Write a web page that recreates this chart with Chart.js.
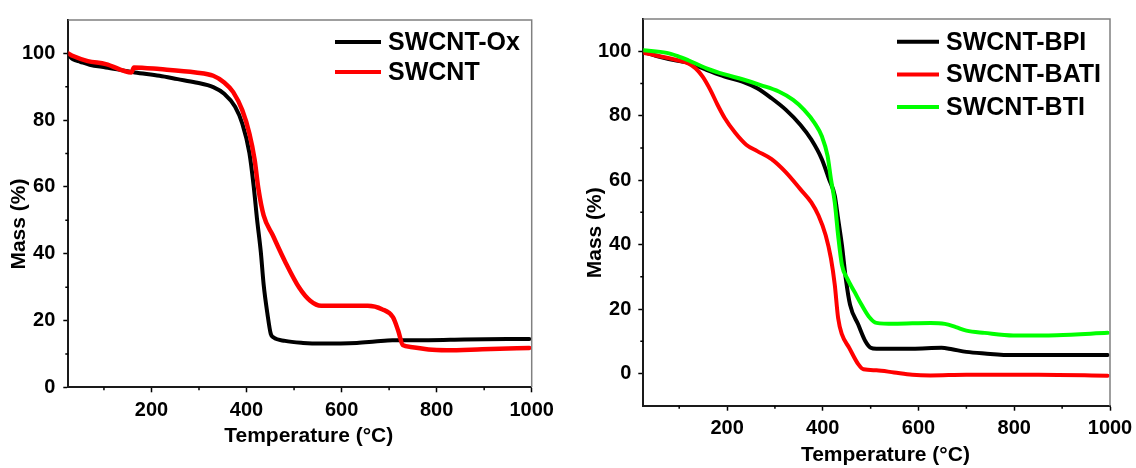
<!DOCTYPE html>
<html>
<head>
<meta charset="utf-8">
<title>TGA curves</title>
<script src="https://cdn.jsdelivr.net/npm/chart.js@4.4.1/dist/chart.umd.min.js"></script>
<style>
  html, body { margin: 0; padding: 0; background: #fff; }
  body { width: 1136px; height: 468px; position: relative; overflow: hidden; }
  .panel { position: absolute; top: 0; }
  #left  { left: 0; }
  #right { left: 570px; }
</style>
</head>
<body>
<div class="panel" id="left"><canvas id="leftChart" width="560" height="468"></canvas></div>
<div class="panel" id="right"><canvas id="rightChart" width="566" height="468"></canvas></div>
<script>
// ── Data ──────────────────────────────────────────────────────────────────────
const xMajorTicks = [200, 400, 600, 800, 1000];
const xMinorTicks = [100, 300, 500, 700, 900];
const yMajorTicks = [0, 20, 40, 60, 80, 100];
const yMinorTicks = [10, 30, 50, 70, 90];

// left panel
const oxTemp = [25, 35, 50, 70, 104, 165, 217, 255, 293, 330, 353, 376, 391, 406, 415, 422, 430, 436, 444, 451, 457, 481, 519, 557, 632, 670, 707, 783, 858, 995];
const oxMass = [99.5, 98.2, 97.5, 96.6, 95.8, 94.3, 93.3, 92.3, 91.3, 89.9, 87.9, 84, 79, 70.2, 60.3, 50.5, 40.6, 30.8, 22, 16, 14.9, 13.9, 13.3, 13.1, 13.3, 13.7, 14.1, 14.1, 14.3, 14.5];

const swTemp = [25, 35, 66, 104, 158, 163, 217, 293, 330, 353, 372, 391, 406, 417, 425, 436, 455, 481, 511, 534, 557, 594, 655, 685, 708, 719, 729, 745, 783, 821, 896, 995];
const swMass = [100, 99.2, 97.7, 96.8, 94.3, 95.8, 95.3, 94.3, 93.3, 91.3, 88.4, 83, 76, 68.2, 59.4, 51.5, 45.6, 37.7, 29.8, 25.9, 24.4, 24.4, 24.4, 23.4, 21, 17, 12.6, 12.1, 11.3, 11.1, 11.4, 11.8];

// right panel
const bpiTemp = [25, 59, 97, 119, 157, 195, 232, 263, 293, 323, 353, 376, 398, 413, 425, 432, 440, 448, 457, 474, 489, 500, 512, 587, 648, 670, 700, 738, 798, 995];
const bpiMass = [99.8, 98.3, 97, 96.4, 94.2, 92.1, 90.6, 88.5, 85.4, 81.8, 77.2, 72.6, 66.5, 60.3, 55.2, 48, 39.8, 29.5, 21.3, 15.2, 10, 8, 7.7, 7.7, 8, 7.5, 6.7, 6.2, 5.7, 5.7];

const batiTemp = [25, 97, 119, 134, 149, 165, 180, 195, 217, 240, 263, 293, 323, 353, 376, 391, 406, 417, 425, 432, 440, 455, 474, 485, 512, 549, 587, 625, 700, 851, 995];
const batiMass = [99.5, 97.2, 96.2, 94.7, 92.1, 88, 83.4, 79.3, 74.7, 71, 69, 66.5, 62.4, 57.2, 53.1, 49, 42.9, 35.7, 27.5, 17.2, 12.1, 8, 2.9, 1.3, 1, 0.3, -0.4, -0.6, -0.4, -0.4, -0.7];

const btiTemp = [25, 74, 97, 119, 157, 195, 232, 270, 308, 338, 361, 383, 398, 410, 417, 425, 432, 440, 451, 466, 481, 496, 512, 549, 625, 655, 678, 700, 738, 798, 889, 995];
const btiMass = [100.3, 99.5, 98.5, 97.2, 94.7, 92.8, 91.3, 89.5, 87.5, 84.9, 81.8, 77.7, 73.6, 67.5, 60.3, 53.1, 42.9, 33.6, 29.5, 25.4, 21.3, 17.7, 15.7, 15.4, 15.7, 15.4, 14.4, 13.3, 12.6, 11.8, 11.9, 12.6];

const pts = (xs, ys) => xs.map((x, i) => ({ x, y: ys[i] }));

// ── Shared styling ────────────────────────────────────────────────────────────
const FONT = "Arial, 'Liberation Sans', sans-serif";
const tickFont  = { family: FONT, size: 20, weight: "bold" };
const titleFont = { family: FONT, size: 21, weight: "bold" };

// minor ticks, top/right frame and the in-plot legend
const framePlugin = {
  id: "frame",
  afterDraw(chart, args, opts) {
    const { ctx, chartArea: a, scales } = chart;
    ctx.save();
    ctx.strokeStyle = "#808080";
    ctx.lineWidth = 1.5;
    ctx.beginPath();
    ctx.moveTo(a.left, a.top);
    ctx.lineTo(a.right, a.top);
    ctx.lineTo(a.right, a.bottom);
    ctx.stroke();

    ctx.strokeStyle = "#000";
    ctx.lineWidth = 1.5;
    ctx.beginPath();
    xMinorTicks.forEach(v => {
      const px = scales.x.getPixelForValue(v);
      ctx.moveTo(px, a.bottom); ctx.lineTo(px, a.bottom + 3);
    });
    yMinorTicks.forEach(v => {
      const py = scales.y.getPixelForValue(v);
      ctx.moveTo(a.left, py); ctx.lineTo(a.left - 3, py);
    });
    ctx.stroke();

    // legend
    const lg = opts.legend;
    ctx.font = `bold 25px ${FONT}`;
    ctx.textBaseline = "middle";
    chart.data.datasets.forEach((ds, i) => {
      const y = lg.y + i * lg.gap;
      ctx.strokeStyle = ds.borderColor;
      ctx.lineWidth = 4;
      ctx.beginPath();
      ctx.moveTo(lg.x, y);
      ctx.lineTo(lg.x + lg.len, y);
      ctx.stroke();
      ctx.fillStyle = "#000";
      ctx.fillText(ds.label, lg.x + lg.len + 7, y + 1);
    });
    ctx.restore();
  },
};

function makeChart(id, datasets, cfg) {
  return new Chart(document.getElementById(id), {
    type: "line",
    data: { datasets },
    plugins: [framePlugin],
    options: {
      responsive: false,
      animation: false,
      layout: { padding: { top: cfg.top, right: cfg.right, left: 0, bottom: 0 } },
      elements: {
        point: { radius: 0 },
        line: { borderWidth: 4, cubicInterpolationMode: "monotone", borderCapStyle: "round", borderJoinStyle: "round" },
      },
      plugins: {
        legend: { display: false },
        tooltip: { enabled: false },
        frame: { legend: cfg.legend },
      },
      scales: {
        x: {
          type: "linear",
          min: 25, max: 1000,
          afterBuildTicks: s => { s.ticks = xMajorTicks.map(v => ({ value: v })); },
          afterFit: s => {
            s.height = cfg.xHeight;
            s.paddingRight = Math.min(s.paddingRight, cfg.right);  // let "1000" overhang into the margin
          },
          ticks: { font: tickFont, color: "#000", padding: 6, maxRotation: 0, callback: v => String(v) },
          grid: { drawOnChartArea: false, tickLength: 5, tickColor: "#000", tickWidth: 1.5 },
          border: { display: true, color: "#1a1a1a", width: 2 },
          title: { display: true, text: "   Temperature (°C)", font: titleFont, color: "#000", padding: { top: 0, bottom: cfg.xTitlePad } },
        },
        y: {
          min: cfg.yMin, max: 110,
          afterBuildTicks: s => { s.ticks = yMajorTicks.map(v => ({ value: v })); },
          afterFit: s => { s.width = cfg.yWidth; },
          ticks: { font: tickFont, color: "#000", padding: cfg.yTickPad, callback: v => String(v) },
          grid: { drawOnChartArea: false, tickLength: 5, tickColor: "#000", tickWidth: 1.5 },
          border: { display: true, color: "#1a1a1a", width: 2 },
          title: { display: true, text: "Mass (%)       ", font: titleFont, color: "#000", padding: { top: cfg.yTitlePad, bottom: 0 } },
        },
      },
    },
  });
}

makeChart("leftChart", [
  { label: "SWCNT-Ox", data: pts(oxTemp, oxMass), borderColor: "#000000", order: 1 },
  { label: "SWCNT",    data: pts(swTemp, swMass), borderColor: "#ff0000", borderWidth: 4.5, order: 0 },
], { top: 14.7, right: 28.3, xHeight: 80.7, yWidth: 68.3, yMin: 0, xTitlePad: 19, yTitlePad: 7, yTickPad: 8,
     legend: { x: 335, y: 42, gap: 30, len: 46 } });

makeChart("rightChart", [
  { label: "SWCNT-BPI",  data: pts(bpiTemp, bpiMass),  borderColor: "#000000", order: 2 },
  { label: "SWCNT-BATI", data: pts(batiTemp, batiMass), borderColor: "#ff0000", order: 1 },
  { label: "SWCNT-BTI",  data: pts(btiTemp, btiMass),  borderColor: "#00ff00", order: 0 },
], { top: 15, right: 26, xHeight: 62.3, yWidth: 73.3, yMin: -10, xTitlePad: 0, yTitlePad: 13, yTickPad: 7,
     legend: { x: 327, y: 41.7, gap: 32.7, len: 42 } });
</script>
</body>
</html>
